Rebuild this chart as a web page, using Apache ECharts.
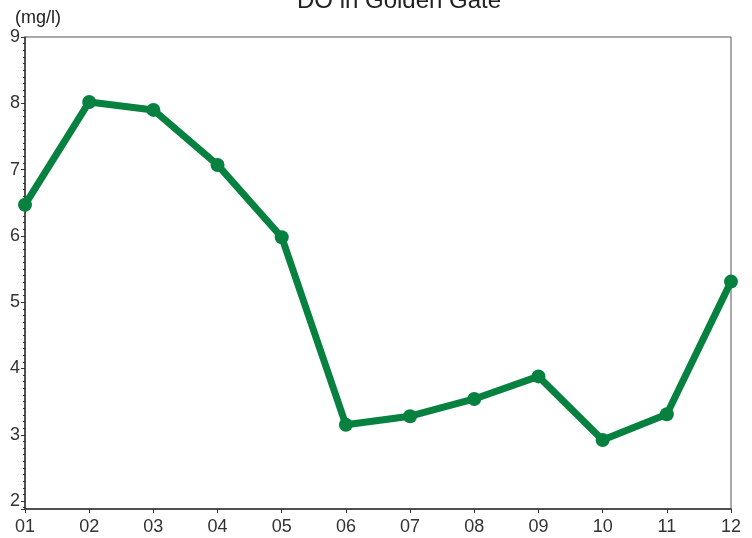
<!DOCTYPE html>
<html>
<head>
<meta charset="utf-8">
<script src="https://cdn.jsdelivr.net/npm/echarts@6/dist/echarts.min.js"></script>
<style>html,body{margin:0;padding:0;background:#fff}#c{width:752px;height:538px}</style>
</head>
<body>
<div id="c"></div>
<script>
const categories = ['01','02','03','04','05','06','07','08','09','10','11','12'];
const doValues = [6.47, 8.02, 7.90, 7.07, 5.98, 3.15, 3.28, 3.54, 3.88, 2.92, 3.31, 5.31];
const yMin = 1.88;
const yMax = 9;

const chart = echarts.init(document.getElementById('c'));
const font = 'Liberation Sans, Arial, sans-serif';
chart.setOption({
  animation: false,
  backgroundColor: '#fff',
  title: [
    { text: 'DO in Golden Gate', left: 297, top: -11, padding: 0,
      textStyle: { fontFamily: font, fontSize: 24, fontWeight: 'normal', color: '#222' } },
    { text: '(mg/l)', left: 15, top: 9, padding: 0,
      textStyle: { fontFamily: font, fontSize: 18, fontWeight: 'normal', color: '#222' } }
  ],
  grid: { left: 25, right: 21, top: 37, bottom: 29, show: true, borderColor: '#555', borderWidth: 1, backgroundColor: 'transparent' },
  xAxis: {
    type: 'category', data: categories, boundaryGap: false,
    axisLine: { lineStyle: { color: '#333', width: 1.5 } },
    axisTick: { show: true, length: 4, lineStyle: { color: '#333' } },
    axisLabel: { fontFamily: font, fontSize: 18, color: '#333', margin: 9 },
    splitLine: { show: false }
  },
  yAxis: {
    type: 'value', min: yMin, max: yMax, splitNumber: 7,
    axisLine: { show: true, lineStyle: { color: '#333', width: 1.5 } },
    axisTick: { show: true, length: 4, lineStyle: { color: '#333' } },
    minorTick: { show: true, splitNumber: 10, length: 2, lineStyle: { color: '#333' } },
    axisLabel: { fontFamily: font, fontSize: 18, color: '#333', margin: 5,
      formatter: v => (Math.abs(v - Math.round(v)) < 1e-6 ? String(Math.round(v)) : '') },
    splitLine: { show: false }
  },
  series: [{
    type: 'line', data: doValues,
    lineStyle: { color: '#07813F', width: 7 },
    itemStyle: { color: '#07813F' },
    symbol: 'circle', symbolSize: 14,
    clip: false
  }]
});
</script>
</body>
</html>
